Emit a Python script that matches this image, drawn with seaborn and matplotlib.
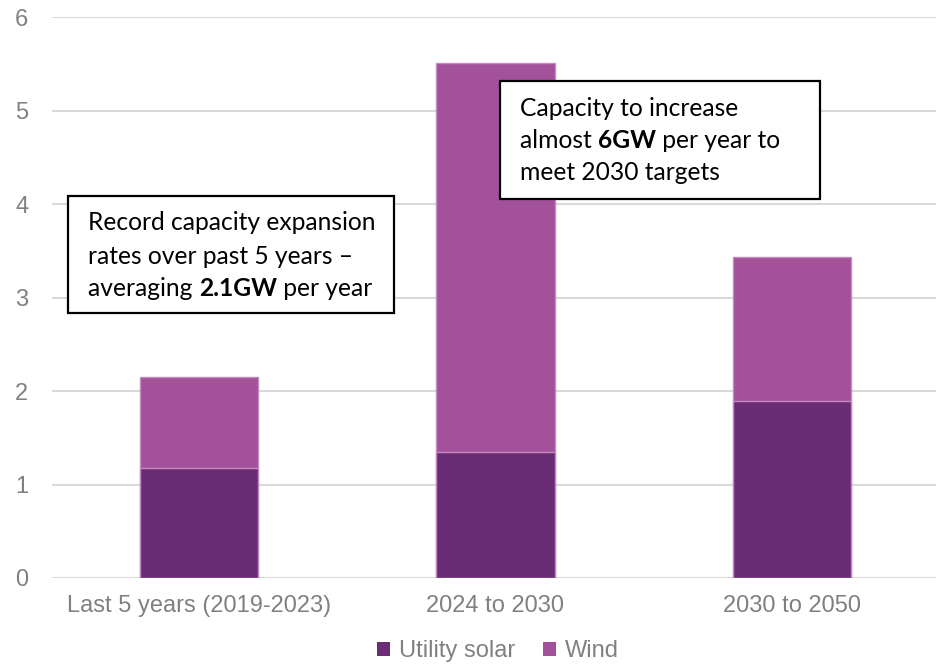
import matplotlib
matplotlib.use("Agg")
import matplotlib.pyplot as plt
import seaborn as sns
import pandas as pd
from matplotlib.patches import Patch, Rectangle

categories = ["Last 5 years (2019-2023)", "2024 to 2030", "2030 to 2050"]
utility_solar = [1.18, 1.35, 1.89]
wind = [0.97, 4.16, 1.54]
y_ticks = [0, 1, 2, 3, 4, 5, 6]
legend_labels = ["Utility solar", "Wind"]

SOLAR_C = "#6A2D75"
WIND_C = "#A2519A"
EDGE_C = "#C58BC0"
GRID_C = "#D9D9D9"
TICK_C = "#808080"

sns.set_theme(style="white")
plt.rcParams["font.family"] = ["Liberation Sans", "DejaVu Sans"]

W, H = 936, 664
fig = plt.figure(figsize=(W / 100, H / 100), dpi=100)
ax = fig.add_axes([52 / W, 86 / H, 1 - 52 / W, (578 - 17) / H])

df = pd.DataFrame({"category": categories,
                   "solar": utility_solar,
                   "total": [s + w for s, w in zip(utility_solar, wind)]})

sns.barplot(data=df, x="category", y="total", color=WIND_C, saturation=1,
            width=0.4, edgecolor=EDGE_C, linewidth=1, ax=ax, zorder=3)
sns.barplot(data=df, x="category", y="solar", color=SOLAR_C, saturation=1,
            width=0.4, edgecolor=EDGE_C, linewidth=1, ax=ax, zorder=4)

ax.set_ylim(0, 6)
ax.set_xlim(-0.496, 2.486)
ax.set_yticks(y_ticks)
ax.set_yticklabels([str(t) for t in y_ticks])
ax.set_xlabel("")
ax.set_ylabel("")
ax.grid(axis="y", color=GRID_C, linewidth=1.5, zorder=0)
ax.grid(axis="x", visible=False)
for s in ax.spines.values():
    s.set_visible(False)
ax.tick_params(axis="y", length=0, pad=17, labelsize=17, labelcolor=TICK_C)
ax.tick_params(axis="x", length=0, pad=12, labelsize=17, labelcolor=TICK_C)
for lab in ax.get_xticklabels() + ax.get_yticklabels():
    lab.set_family(["Liberation Sans", "DejaVu Sans"])

handles = [Patch(facecolor=SOLAR_C, edgecolor="none"),
           Patch(facecolor=WIND_C, edgecolor="none")]
fig.legend(handles, legend_labels, loc="center", bbox_to_anchor=(498 / W, 1 - 651 / H),
           ncol=2, frameon=False, labelcolor=TICK_C,
           prop={"family": ["Liberation Sans", "DejaVu Sans"], "size": 17},
           handlelength=0.55, handleheight=0.55, handletextpad=0.35, columnspacing=1.2)

# Annotation boxes
ANN_FONT = ["Lato", "DejaVu Sans"]
ANN_SIZE = 17.7
renderer = fig.canvas.get_renderer()


def text_width(s, weight):
    t1 = fig.text(0, 0, "|" + s + "|", fontsize=ANN_SIZE, family=ANN_FONT, fontweight=weight)
    t2 = fig.text(0, 0, "||", fontsize=ANN_SIZE, family=ANN_FONT, fontweight=weight)
    w = t1.get_window_extent(renderer).width - t2.get_window_extent(renderer).width
    t1.remove()
    t2.remove()
    return w


def rich_line(x_px, y_px, parts):
    x = x_px
    for s, weight in parts:
        fig.text(x / W, 1 - y_px / H, s, fontsize=ANN_SIZE, family=ANN_FONT,
                 fontweight=weight, va="center", ha="left", color="black", zorder=11)
        x += text_width(s, weight)


def box(x0, y0, x1, y1):
    fig.add_artist(Rectangle((x0 / W, 1 - y1 / H), (x1 - x0) / W, (y1 - y0) / H,
                             transform=fig.transFigure, facecolor="white",
                             edgecolor="black", linewidth=1.6, zorder=10))


box(68, 196, 394, 313)
rich_line(88, 223, [("Record capacity expansion", "normal")])
rich_line(88, 256, [("rates over past 5 years \u2013", "normal")])
rich_line(88, 288, [("averaging ", "normal"), ("2.1GW", "bold"), (" per year", "normal")])

box(500, 81, 820, 199)
rich_line(520, 108, [("Capacity to increase", "normal")])
rich_line(520, 141, [("almost ", "normal"), ("6GW", "bold"), (" per year to", "normal")])
rich_line(520, 173, [("meet 2030 targets", "normal")])

fig.savefig("out.png", dpi=100)
